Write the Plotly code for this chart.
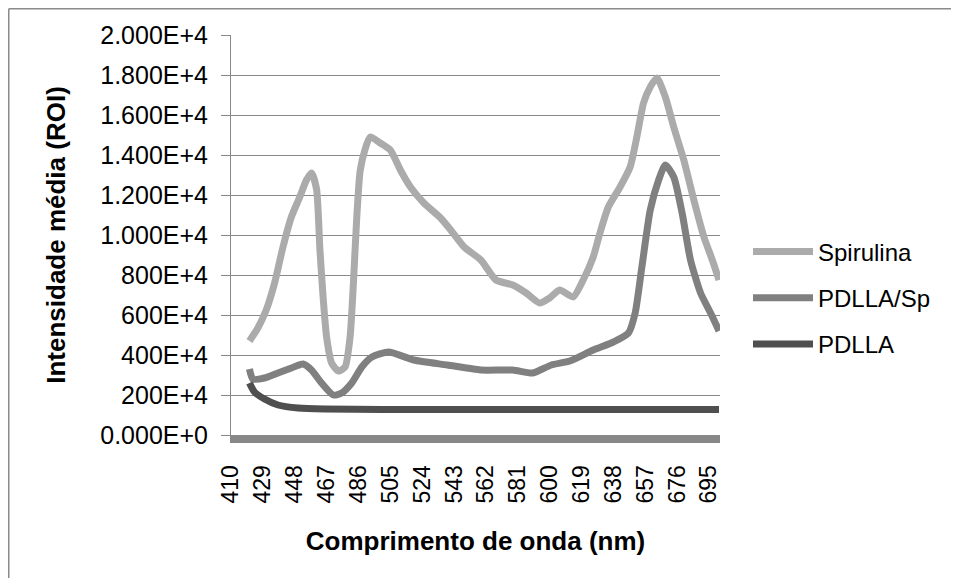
import plotly.graph_objects as go

# ---- data ----
spirulina_nm = [421, 426, 431, 436, 441, 446, 451, 455, 458, 461, 463, 465, 467, 470, 474, 478,
                481, 483, 485, 487, 490, 493, 499, 505, 511, 517, 525, 535, 541, 549, 559, 568,
                578, 586, 594, 600, 606, 614, 620, 626, 630, 635, 642, 648, 652, 656, 660, 664,
                669, 674, 680, 686, 692, 697, 701]
spirulina = [4700, 5350, 6250, 7600, 9400, 10900, 11900, 12750, 13100, 12300, 9300, 6800, 4900,
             3600, 3200, 3400, 4900, 7600, 10900, 13200, 14300, 14900, 14600, 14250, 13250, 12400,
             11600, 10850, 10250, 9400, 8750, 7750, 7500, 7100, 6600, 6850, 7250, 6900, 7750, 8900,
             10100, 11400, 12400, 13400, 14900, 16600, 17400, 17850, 16900, 15400, 13750, 11750,
             9900, 8750, 7750]

pdlla_sp_nm = [421, 423, 430, 438, 446, 453, 458, 464, 471, 476, 482, 488, 494, 504, 519, 539,
               559, 578, 590, 601, 612, 626, 638, 647, 651, 655, 660, 665, 669, 674, 679, 684,
               690, 696, 701]
pdlla_sp = [3300, 2800, 2850, 3100, 3350, 3550, 3250, 2600, 2000, 2100, 2600, 3400, 3900, 4150,
            3750, 3500, 3250, 3250, 3100, 3500, 3700, 4250, 4650, 5100, 6100, 8400, 11250, 12750,
            13500, 12900, 11100, 8750, 7100, 6100, 5200]

pdlla_nm = [421, 424, 430, 438, 450, 466, 500, 550, 600, 650, 701]
pdlla = [2600, 2150, 1800, 1500, 1350, 1300, 1280, 1280, 1280, 1280, 1280]

x_ticks = list(range(410, 696, 19))
x_ticklabels = [str(v) for v in x_ticks]
y_ticks = [0, 2000, 4000, 6000, 8000, 10000, 12000, 14000, 16000, 18000, 20000]
y_ticklabels = ["0.000E+0", "200E+4", "400E+4", "600E+4", "800E+4", "1.000E+4",
                "1.200E+4", "1.400E+4", "1.600E+4", "1.800E+4", "2.000E+4"]

series_names = ["Spirulina", "PDLLA/Sp", "PDLLA"]
series_colors = ["#ABABAB", "#808080", "#4F4F4F"]

FONT = "Liberation Sans, Arial, sans-serif"

fig = go.Figure()
for name, xs, ys, col in zip(series_names,
                             [spirulina_nm, pdlla_sp_nm, pdlla_nm],
                             [spirulina, pdlla_sp, pdlla],
                             series_colors):
    fig.add_trace(go.Scatter(x=xs, y=ys, name=name, mode="lines", legendgroup=name,
                             line=dict(color=col, width=7, shape="spline", smoothing=0.6)))

# page body has an 8px margin, so the figure is sized to fit inside the window
W, H = 943, 570
L, T = 223, 27
pw, ph = 489, 400
R, B = W - L - pw, H - T - ph

border = dict(color="#8A8A8A", width=1.5)
fig.update_layout(
    width=W, height=H, autosize=False,
    margin=dict(l=L, r=R, t=T, b=B, pad=0, autoexpand=False),
    paper_bgcolor="white", plot_bgcolor="white",
    font=dict(family=FONT, size=24, color="black"),
    showlegend=True,
    legend=dict(xref="container", yref="container",
                x=740 / W, xanchor="left", y=1 - 290 / H, yanchor="middle",
                font=dict(family=FONT, size=24, color="black"),
                tracegroupgap=12, itemwidth=60, bgcolor="rgba(0,0,0,0)"),
    xaxis=dict(range=[410, 410 + pw / 1.677], tickvals=x_ticks, ticktext=x_ticklabels,
               tickangle=-90, showgrid=False, zeroline=False, showline=True, automargin=False,
               linecolor="#888888", linewidth=8, ticks="", ticklabelstandoff=13,
               tickfont=dict(family=FONT, size=23, color="black"),
               title=dict(text="<b>Comprimento de onda (nm)</b>", standoff=32,
                          font=dict(family=FONT, size=26, color="black"))),
    yaxis=dict(range=[0, 20000], tickvals=y_ticks, ticktext=y_ticklabels, automargin=False,
               showgrid=True, gridcolor="#888888", gridwidth=1, zeroline=False,
               showline=True, linecolor="#888888", linewidth=1,
               ticks="outside", ticklen=9, tickcolor="#888888", ticklabelstandoff=8,
               tickfont=dict(family=FONT, size=25, color="black"),
               title=dict(text="<b>Intensidade média (ROI)</b>", standoff=27,
                          font=dict(family=FONT, size=26, color="black"))),
    shapes=[
        dict(type="line", xref="paper", yref="paper",
             x0=(0.75 - L) / pw, x1=(W - L) / pw,
             y0=(T + ph - 0.75) / ph, y1=(T + ph - 0.75) / ph, line=border, layer="below"),
        dict(type="line", xref="paper", yref="paper",
             x0=(0.75 - L) / pw, x1=(0.75 - L) / pw,
             y0=(T + ph - H) / ph, y1=(T + ph - 0.75) / ph, line=border, layer="below"),
    ],
)

fig.write_html("out.html")
